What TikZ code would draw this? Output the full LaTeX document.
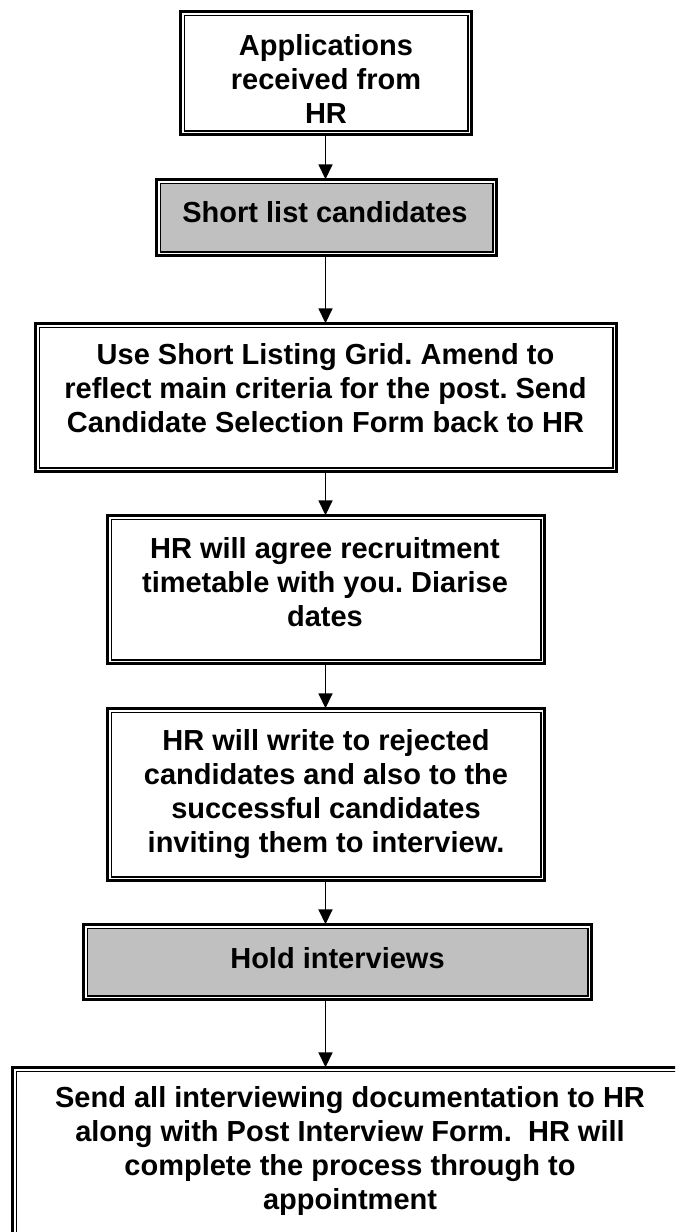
\documentclass[tikz,border=0pt]{standalone}
\usepackage{fontspec}
\setmainfont{Liberation Sans}
\usetikzlibrary{arrows.meta,calc}
\definecolor{boxgrey}{HTML}{C0C0C0}
\frenchspacing
\tikzset{
  boxouter/.style={draw=black, line width=2.6pt, fill=white, inner sep=0pt, outer sep=0pt, rectangle},
  boxinner/.style={draw=black, line width=1.6pt},
  boxtext/.style={inner sep=0pt, outer sep=0pt, anchor=base, font=\bfseries\fontsize{29}{34.3}\selectfont},
  arr/.style={line width=1.6pt, -{Triangle[length=15pt,width=14pt]}},
}
\newcommand{\dblbox}[6]{%
  \node[boxouter, minimum width=#4pt-2.6pt, minimum height=#5pt-2.6pt] (#1) at (#2,-#3) {};
  \draw[boxinner, fill=#6] ($(#1.north west)+(4,-4)$) rectangle ($(#1.south east)+(-4,4)$);
}
\newcommand{\boxlines}[1]{\parbox[t]{660pt}{\centering #1}}
\begin{document}
\begin{tikzpicture}[x=1pt,y=1pt]
\useasboundingbox (0,0) rectangle (675,-1232);
\clip (0,0) rectangle (675,-1232);
\dblbox{b1}{326}{73}{294}{126}{white}
\dblbox{b2}{326.5}{217.5}{343}{79}{boxgrey}
\dblbox{b3}{326}{397.5}{584}{151}{white}
\dblbox{b4}{326}{589.5}{440}{151}{white}
\dblbox{b5}{326}{794.5}{440}{175}{white}
\dblbox{b6}{337.5}{962}{511}{78}{boxgrey}
\dblbox{b7}{350.5}{1166}{679}{200}{white}

\node[boxtext] (t1) at (326,-55) {\boxlines{Applications\\ received from\\ HR}};
\node[boxtext] (t2) at (325,-222) {\boxlines{Short list candidates}};
\node[boxtext] (t3) at (325.5,-364) {\boxlines{Use Short Listing Grid. Amend to\\ reflect main criteria for the post. Send\\ Candidate Selection Form back to HR}};
\node[boxtext] (t4) at (325,-558) {\boxlines{HR will agree recruitment\\ timetable with you. Diarise\\ dates}};
\node[boxtext] (t5) at (326,-750) {\boxlines{HR will write to rejected\\ candidates and also to the\\ successful candidates\\ inviting them to interview.}};
\node[boxtext] (t6) at (337.5,-968) {\boxlines{Hold interviews}};
\node[boxtext] (t7) at (350,-1107) {\boxlines{Send all interviewing documentation to HR\\ along with Post Interview Form.~~HR will\\ complete the process through to\\ appointment}};

\coordinate (ax) at (325.5,0);
\draw[arr] (b1.south -| ax) -- (b2.north -| ax);
\draw[arr] (b2.south -| ax) -- (b3.north -| ax);
\draw[arr] (b3.south -| ax) -- (b4.north -| ax);
\draw[arr] (b4.south -| ax) -- (b5.north -| ax);
\draw[arr] (b5.south -| ax) -- (b6.north -| ax);
\draw[arr] (b6.south -| ax) -- (b7.north -| ax);
\end{tikzpicture}
\end{document}
